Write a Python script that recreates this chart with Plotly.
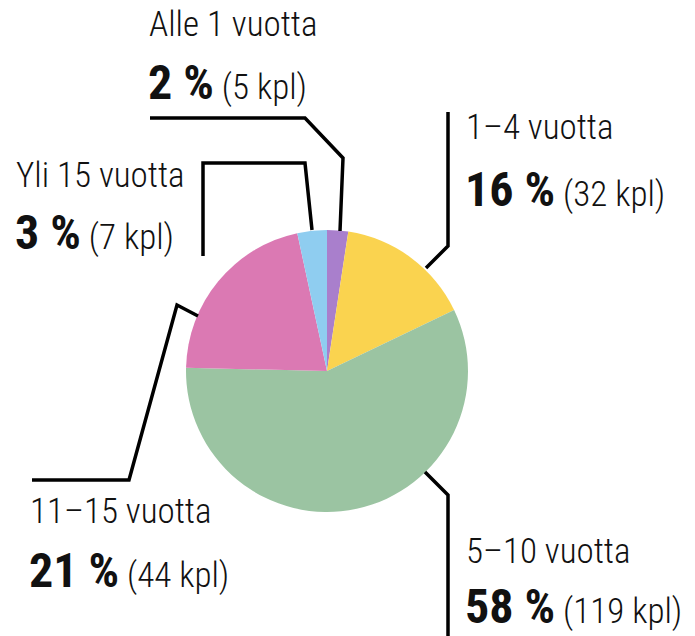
import plotly.graph_objects as go

# ---- data ----
categories = ["Alle 1 vuotta", "1–4 vuotta", "5–10 vuotta", "11–15 vuotta", "Yli 15 vuotta"]
counts = [5, 32, 119, 44, 7]
percents = [2, 16, 58, 21, 3]
colors = ["#a97fcc", "#fad34f", "#9bc4a2", "#db79b3", "#8fcdf0"]

W, H = 695, 636
FONT = "Roboto Condensed, Liberation Sans Narrow, DejaVu Sans Condensed, Roboto, sans-serif"

# pie geometry (pixels)
cx, cy, r = 327, 371, 141

fig = go.Figure()
fig.add_trace(go.Pie(
    values=counts, labels=categories, sort=False, direction="clockwise",
    rotation=0, marker=dict(colors=colors, line=dict(width=0)),
    textinfo="none", hoverinfo="label+value+percent", showlegend=False,
    domain=dict(x=[(cx - r) / W, (cx + r) / W], y=[1 - (cy + r) / H, 1 - (cy - r) / H]),
))

# label layout (pixel positions): left x, line1 centre y, line2 centre y
label_pos = [
    (147, 24, 82),
    (464, 127, 189),
    (464, 551, 606),
    (28, 511, 570),
    (14, 175, 232),
]
leaders = [
    [(150, 118), (305, 118), (343, 158), (340, 231)],
    [(448, 112), (448, 246), (426, 268)],
    [(425, 472), (448, 495), (448, 640)],
    [(32, 480), (129, 480), (177, 305), (198, 316)],
    [(203, 256), (203, 163), (305, 163), (312, 230)],
]

for cat, n, p, (lx, y1, y2), pts in zip(categories, counts, percents, label_pos, leaders):
    fig.add_annotation(x=lx, y=y1, xref="x", yref="y", xanchor="left", yanchor="middle",
                       text=cat, showarrow=False,
                       font=dict(family=FONT, size=35, color="#111", weight=300))
    fig.add_annotation(x=lx, y=y2, xref="x", yref="y", xanchor="left", yanchor="middle",
                       text=f"<span style='font-size:48px;font-weight:bold'>{p} %</span> ({n} kpl)",
                       showarrow=False, borderpad=0,
                       font=dict(family=FONT, size=35, color="#111", weight=300))
    path = "M " + " L ".join(f"{x},{y}" for x, y in pts)
    fig.add_shape(type="path", path=path, xref="x", yref="y",
                  line=dict(color="#000", width=3.5), layer="above")

fig.update_layout(
    width=W, height=H, margin=dict(l=0, r=0, t=0, b=0),
    paper_bgcolor="white", plot_bgcolor="rgba(0,0,0,0)",
    xaxis=dict(range=[0, W], visible=False, fixedrange=True),
    yaxis=dict(range=[H, 0], visible=False, fixedrange=True),
)
fig.write_html("out.html", config={"displayModeBar": False},
               post_script="document.body.style.margin='0px';")
